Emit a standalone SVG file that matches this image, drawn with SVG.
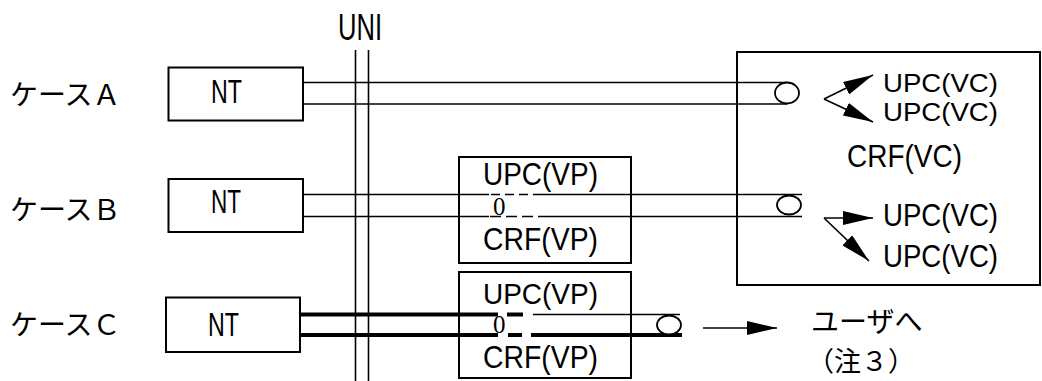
<svg xmlns="http://www.w3.org/2000/svg" width="1042" height="381" viewBox="0 0 1042 381">
<defs>
<marker id="ah" markerUnits="userSpaceOnUse" viewBox="0 0 30 14" refX="30" refY="7" markerWidth="30" markerHeight="14" orient="auto">
<path d="M0,0 L30,7 L0,14 z" fill="#000"/>
</marker>
<style>
.box{fill:#fff;stroke:#000;stroke-width:2}
.box0{fill:none;stroke:#000;stroke-width:2}
.ln{stroke:#000;stroke-width:1.6;fill:none}
.thk{stroke:#000;stroke-width:4;fill:none}
.ell{fill:#fff;stroke:#000;stroke-width:1.8}
.lat{font-family:"Liberation Sans",Arial,sans-serif;font-size:32px;fill:#000}
.vc{font-family:"Liberation Sans",Arial,sans-serif;font-size:26px;fill:#000}
.nt{font-family:"Liberation Sans",Arial,sans-serif;font-size:34px;fill:#000}
.jp{font-family:"Noto Sans CJK JP",sans-serif;font-size:28px;fill:#000}
.zero{font-family:"Liberation Serif","Times New Roman",serif;font-size:25px;fill:#000}
.arr{stroke:#000;stroke-width:1.6;fill:none;marker-end:url(#ah)}
</style>
</defs>
<rect width="1042" height="381" fill="#fff"/>

<g id="labels">
<text class="jp" x="10" y="105">ケースＡ</text>
<text class="jp" x="10" y="220">ケースＢ</text>
<text class="jp" x="10" y="335">ケースＣ</text>
</g>

<g id="uni">
<text class="nt" x="338" y="40" style="font-size:36px" textLength="44" lengthAdjust="spacingAndGlyphs">UNI</text>
<line class="ln" x1="355.5" y1="50" x2="355.5" y2="381"/>
<line class="ln" x1="368.5" y1="50" x2="368.5" y2="381"/>
</g>

<g id="nt-a">
<rect class="box" x="168.5" y="67.5" width="134.5" height="53"/>
<text class="nt" x="211" y="103" textLength="31" lengthAdjust="spacingAndGlyphs">NT</text>
</g>
<g id="nt-b">
<rect class="box" x="168.5" y="179" width="134.5" height="53"/>
<text class="nt" x="211" y="213" textLength="30" lengthAdjust="spacingAndGlyphs">NT</text>
</g>
<g id="nt-c">
<rect class="box" x="166" y="297.5" width="134" height="54.5"/>
<text class="nt" x="208" y="336" textLength="31" lengthAdjust="spacingAndGlyphs">NT</text>
</g>

<g id="network">
<rect class="box0" x="737" y="52" width="303" height="233"/>
<text class="vc" x="883" y="91.5" textLength="115" lengthAdjust="spacingAndGlyphs">UPC(VC)</text>
<text class="vc" x="883" y="121" textLength="115" lengthAdjust="spacingAndGlyphs">UPC(VC)</text>
<text class="lat" x="847" y="167" textLength="115" lengthAdjust="spacingAndGlyphs">CRF(VC)</text>
<text class="lat" x="883" y="226" textLength="115" lengthAdjust="spacingAndGlyphs">UPC(VC)</text>
<text class="lat" x="883" y="267" textLength="115" lengthAdjust="spacingAndGlyphs">UPC(VC)</text>
</g>

<g id="vp-b">
<rect class="box" x="459" y="157" width="172" height="106"/>
<text class="lat" x="483" y="185" textLength="115" lengthAdjust="spacingAndGlyphs">UPC(VP)</text>
<text class="lat" x="483" y="250" textLength="115" lengthAdjust="spacingAndGlyphs">CRF(VP)</text>
</g>
<g id="vp-c">
<rect class="box" x="459" y="272" width="172" height="106"/>
<text class="lat" x="483" y="304" style="font-size:30px" textLength="115" lengthAdjust="spacingAndGlyphs">UPC(VP)</text>
<text class="lat" x="483" y="368" textLength="115" lengthAdjust="spacingAndGlyphs">CRF(VP)</text>
</g>

<g id="user">
<text class="jp" x="811" y="332" style="font-size:28px">ユーザへ</text>
<text class="jp" x="807" y="371" style="font-size:27px">（注３）</text>
</g>

<g id="connectors">
<!-- case A -->
<line class="ln" x1="303" y1="82.5" x2="787" y2="82.5"/>
<line class="ln" x1="303" y1="104" x2="787" y2="104"/>
<ellipse class="ell" cx="787" cy="93" rx="12" ry="10.5"/>
<line class="arr" x1="824" y1="99" x2="873" y2="75"/>
<line class="arr" x1="824" y1="99" x2="873" y2="122"/>
<!-- case B -->
<line class="ln" x1="303" y1="194.5" x2="489" y2="194.5"/>
<line class="ln" x1="491" y1="194.5" x2="540" y2="194.5" stroke-dasharray="9,5"/>
<line class="ln" x1="540" y1="194.5" x2="802" y2="194.5"/>
<line class="ln" x1="303" y1="216.5" x2="489" y2="216.5"/>
<line class="ln" x1="490" y1="216.5" x2="544" y2="216.5" stroke-dasharray="11,5"/>
<line class="ln" x1="544" y1="216.5" x2="802" y2="216.5"/>
<ellipse class="ell" cx="789" cy="205" rx="12" ry="9.5"/>
<text class="zero" x="493" y="215">0</text>
<line class="arr" x1="824" y1="218" x2="873" y2="218"/>
<line class="arr" x1="824" y1="218" x2="869" y2="261"/>
<!-- case C -->
<line class="thk" x1="300" y1="314.5" x2="498" y2="314.5"/>
<line class="thk" x1="507" y1="314.5" x2="523" y2="314.5"/>
<line class="ln" x1="533" y1="314.5" x2="680" y2="314.5"/>
<line class="thk" x1="300" y1="335" x2="498" y2="335"/>
<line class="thk" x1="508" y1="335" x2="522" y2="335"/>
<line class="thk" x1="531" y1="335" x2="682" y2="335"/>
<ellipse class="ell" cx="669" cy="325" rx="12" ry="9.5"/>
<text class="zero" x="493" y="333">0</text>
<line class="arr" x1="703" y1="328" x2="777" y2="328"/>
</g>
</svg>
